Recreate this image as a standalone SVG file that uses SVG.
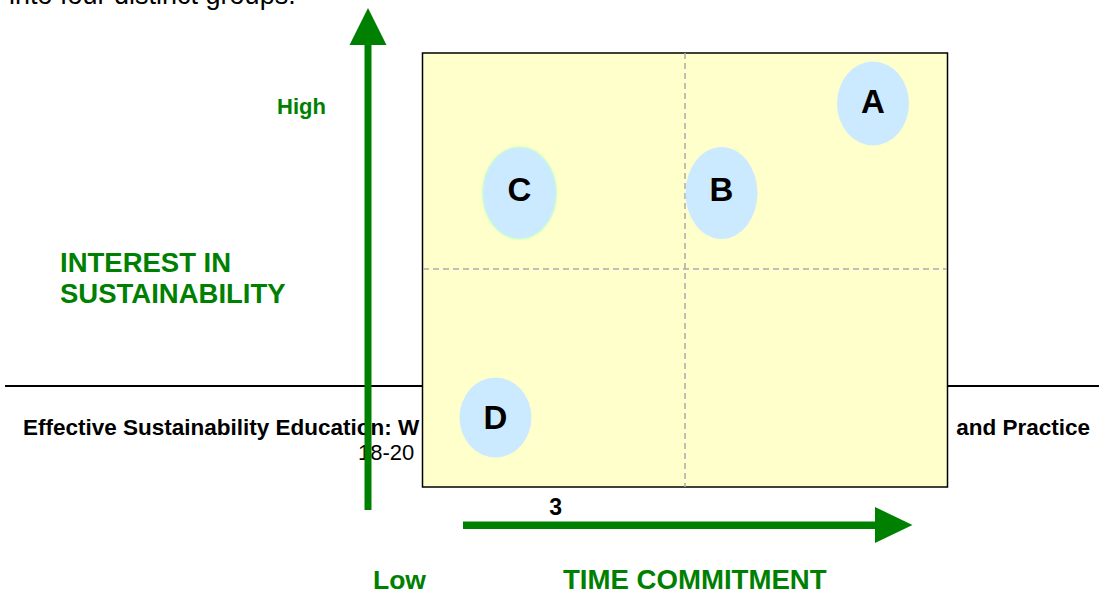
<svg xmlns="http://www.w3.org/2000/svg" width="1099" height="592" viewBox="0 0 1099 592">
  <style>
    .bg { fill: #ffffff; }
    .caption { font-family: "Liberation Sans", Arial, sans-serif; font-size: 27px; fill: #000000; }
    .foot-b { font-family: "Liberation Sans", Arial, sans-serif; font-size: 22.5px; font-weight: bold; fill: #000000; }
    .foot { font-family: "Liberation Sans", Arial, sans-serif; font-size: 22px; fill: #000000; }
    .axis-label { font-family: "Liberation Sans", Arial, sans-serif; font-weight: bold; fill: #008000; }
    .grid { fill: #ffffcc; stroke: #000000; stroke-width: 1.5; }
    .divider { stroke: #aaaaaa; stroke-width: 1.5; stroke-dasharray: 6 4; fill: none; }
    .blob { fill: #cceaff; }
    .blob-c { fill: #cceaff; stroke: #ccffcc; stroke-width: 1.5; }
    .letter { font-family: "Liberation Sans", Arial, sans-serif; font-size: 33px; font-weight: bold; fill: #000000; text-anchor: middle; }
    .axis { fill: #008000; }
  </style>

  <rect class="bg" x="0" y="0" width="1099" height="592"/>

  <!-- caption line running off the top edge -->
  <text class="caption" x="9" y="4">into four distinct groups.</text>

  <!-- page footer lying underneath the chart -->
  <g id="footer">
    <line x1="5" y1="386" x2="1099" y2="386" stroke="#000000" stroke-width="2"/>
    <text class="foot-b" x="23" y="435">Effective Sustainability Education: W</text>
    <text class="foot-b" x="1090" y="435" text-anchor="end">and Practice</text>
    <text class="foot" x="358" y="460">18-20</text>
  </g>

  <!-- quadrant grid -->
  <g id="grid">
    <rect class="grid" x="422.5" y="53" width="525" height="434"/>
    <line class="divider" x1="685" y1="53" x2="685" y2="487"/>
    <line class="divider" x1="423" y1="269" x2="947" y2="269"/>
  </g>

  <!-- axes -->
  <g id="connectors">
    <g id="axis-y">
      <rect class="axis" x="364.5" y="42" width="7" height="468"/>
      <polygon class="axis" points="368,8 386.5,45 349.5,45"/>
    </g>
    <g id="axis-x">
      <rect class="axis" x="463" y="521.5" width="415" height="7.5"/>
      <polygon class="axis" points="912.5,525 875,507 875,543"/>
    </g>
  </g>

  <!-- axis labels -->
  <g id="labels">
    <text class="axis-label" x="277" y="114" font-size="22">High</text>
    <text class="axis-label" x="60" y="272" font-size="27.5">INTEREST IN</text>
    <text class="axis-label" x="60" y="303" font-size="27.5">SUSTAINABILITY</text>
    <text class="axis-label" x="373" y="589" font-size="26.5">Low</text>
    <text class="axis-label" x="563" y="589" font-size="27.6">TIME COMMITMENT</text>
    <text x="555.7" y="515" font-family="Liberation Sans, Arial, sans-serif" font-size="23" font-weight="bold" text-anchor="middle" fill="#000000">3</text>
  </g>

  <!-- groups -->
  <g id="node-a">
    <ellipse class="blob" cx="873" cy="103.5" rx="36" ry="42"/>
    <text class="letter" x="873" y="112.5">A</text>
  </g>
  <g id="node-b">
    <ellipse class="blob" cx="721.5" cy="193" rx="36" ry="46"/>
    <text class="letter" x="721.5" y="200.5">B</text>
  </g>
  <g id="node-c">
    <ellipse class="blob-c" cx="519.5" cy="193" rx="37" ry="46"/>
    <text class="letter" x="519.5" y="200.5">C</text>
  </g>
  <g id="node-d">
    <ellipse class="blob" cx="495.5" cy="417.5" rx="36" ry="40"/>
    <text class="letter" x="495.5" y="429">D</text>
  </g>
</svg>
